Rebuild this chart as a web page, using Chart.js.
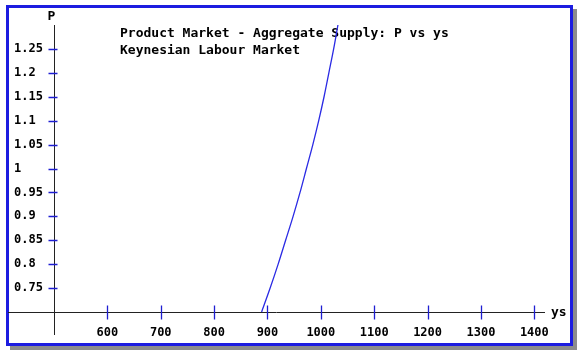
<!DOCTYPE html>
<html>
<head>
<meta charset="utf-8">
<script src="https://cdn.jsdelivr.net/npm/chart.js@4/dist/chart.umd.min.js"></script>
<style>
  body { margin: 0; background: #fff; }
  #frame {
    position: absolute; left: 6px; top: 5px;
    width: 561px; height: 335px;
    border: 3px solid #1c1ce0;
    box-shadow: 4px 4px 0 #8c8c8c;
    background: #fff;
  }
  #chart { position: absolute; left: 0; top: 0; }
</style>
</head>
<body>
<div id="frame"></div>
<canvas id="chart" width="581" height="358"></canvas>
<script>
// DATA

const priceLevel = [0.70, 0.75, 0.80, 0.85, 0.90, 0.95, 1.00, 1.05, 1.10, 1.15, 1.20, 1.25, 1.30];
const outputYs = [889, 905, 920, 934, 948, 961, 973, 985, 996, 1006, 1015, 1024, 1032];
const xTicks = [600, 700, 800, 900, 1000, 1100, 1200, 1300, 1400];
const yTicks = [0.75, 0.8, 0.85, 0.9, 0.95, 1, 1.05, 1.1, 1.15, 1.2, 1.25];
const titleLines = ['Product Market - Aggregate Supply: P vs ys', 'Keynesian Labour Market'];

const monoFont = '"DejaVu Sans Mono", monospace';

// axes drawn through the origin, with the blue cross ticks
const crossAxes = {
  id: 'crossAxes',
  beforeDatasetsDraw(chart) {
    const {ctx, chartArea: a, scales: {x, y}} = chart;
    const y0 = Math.round(a.bottom) + 0.5;
    const x0 = Math.round(a.left) + 0.5;
    ctx.save();
    ctx.lineWidth = 1;
    ctx.strokeStyle = '#222';
    ctx.beginPath();
    ctx.moveTo(a.left - 46, y0); ctx.lineTo(a.right, y0);
    ctx.moveTo(x0, a.top); ctx.lineTo(x0, a.bottom + 23);
    ctx.stroke();

    ctx.strokeStyle = '#1e1ed2';
    ctx.lineWidth = 1.3;
    ctx.beginPath();
    xTicks.forEach(v => {
      const px = Math.round(x.getPixelForValue(v)) + 0.5;
      ctx.moveTo(px, y0 - 7); ctx.lineTo(px, y0 + 7);
    });
    yTicks.forEach(v => {
      const py = Math.round(y.getPixelForValue(v)) + 0.5;
      ctx.moveTo(x0 - 6, py); ctx.lineTo(x0 + 3, py);
    });
    ctx.stroke();

    ctx.fillStyle = '#000';
    ctx.font = 'bold 13px ' + monoFont;
    ctx.textBaseline = 'alphabetic';
    titleLines.forEach((t, i) => ctx.fillText(t, 120, 36.5 + i * 17));
    ctx.textBaseline = 'middle';
    ctx.textAlign = 'center';
    ctx.fillText('P', x0 - 3, 16.5);
    ctx.textAlign = 'left';
    ctx.fillText('ys', a.right + 6, y0);
    ctx.restore();
  }
};

const ctx = document.getElementById('chart');
const chart = new Chart(ctx, {
  type: 'scatter',
  data: {
    datasets: [{
      data: outputYs.map((v, i) => ({x: v, y: priceLevel[i]})),
      showLine: true,
      borderColor: '#2a2ae4',
      borderWidth: 1.3,
      pointRadius: 0,
      cubicInterpolationMode: 'monotone',
      clip: false
    }]
  },
  options: {
    responsive: false,
    animation: false,
    devicePixelRatio: 1,
    layout: {
      padding: {left: 14, top: 25, right: 36, bottom: 16}
    },
    plugins: {
      legend: {display: false},
      tooltip: {enabled: false}
    },
    scales: {
      x: {
        type: 'linear',
        position: 'bottom',
        min: 500,
        max: 1420,
        grid: {display: false},
        border: {display: false},
        afterBuildTicks: s => { s.ticks = xTicks.map(v => ({value: v})); },
        afterFit: s => { s.height = 30; },
        ticks: {
          autoSkip: false,
          maxRotation: 0,
          padding: 6,
          color: '#000',
          font: {family: monoFont, size: 12, weight: 'bold'},
          callback: v => String(v)
        }
      },
      y: {
        type: 'linear',
        position: 'left',
        min: 0.7,
        max: 1.3,
        grid: {display: false},
        border: {display: false},
        afterBuildTicks: s => { s.ticks = yTicks.map(v => ({value: v})); },
        afterFit: s => { s.width = 40; },
        ticks: {
          autoSkip: false,
          crossAlign: 'far',
          padding: 0,
          color: '#000',
          font: {family: monoFont, size: 12, weight: 'bold'},
          callback: v => String(Number(v.toFixed(2)))
        }
      }
    }
  },
  plugins: [crossAxes]
});
</script>
</body>
</html>
